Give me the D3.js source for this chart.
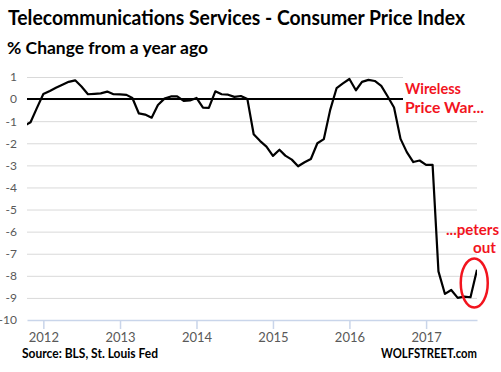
<!DOCTYPE html>
<html>
<head>
<meta charset="utf-8">
<script src="https://cdn.jsdelivr.net/npm/d3@7"></script>
<style>
  html, body { margin: 0; padding: 0; background: #fff; }
  svg { display: block; }
</style>
</head>
<body>
<svg id="chart" width="501" height="372"></svg>
<script>
// ---- data ----
const months = d3.timeMonths(new Date(2011, 9, 1), new Date(2017, 9, 1)); // Oct 2011 .. Sep 2017
const values = [
  -1.22, -1.05, -0.41,
  0.23, 0.37, 0.51, 0.65, 0.78, 0.85, 0.57, 0.22, 0.24, 0.26, 0.34, 0.22,
  0.21, 0.19, 0.05, -0.65, -0.70, -0.84, -0.27, 0.02, 0.12, 0.12, -0.08, -0.06,
  0.05, -0.39, -0.40, 0.35, 0.22, 0.20, 0.10, 0.14, 0.00, -1.59, -1.90, -2.15,
  -2.57, -2.29, -2.56, -2.74, -3.04, -2.86, -2.71, -2.00, -1.81, -0.50, 0.50, 0.71,
  0.91, 0.40, 0.78, 0.87, 0.82, 0.60, 0.13, -0.38, -1.80, -2.40, -2.85, -2.78,
  -2.98, -2.98, -7.80, -8.82, -8.64, -9.00, -8.94, -8.97, -7.73
];
const yTicks = [1, 0, -1, -2, -3, -4, -5, -6, -7, -8, -9, -10];
const xTickYears = [2012, 2013, 2014, 2015, 2016, 2017];
const title = "Telecommunications Services - Consumer Price Index";
const subtitle = "% Change from a year ago";
const source = "Source: BLS, St. Louis Fed";
const brand = "WOLFSTREET.com";
const note1 = ["Wireless", "Price War..."];
const note2 = ["...peters", "out"];

const data = months.map((m, i) => ({ date: m, value: values[i] }));

(function () {
// ---- layout ----
const svg = d3.select("#chart");
const pL = 27, pR = 477, pT = 77, pB = 320;
const x = d3.scaleTime()
  .domain([new Date(2011, 9, 15), new Date(2017, 8, 1)])
  .range([pL, pR]);
const y = d3.scaleLinear().domain([-10, 1]).range([pB, pT]);

const font = "Lato, 'Open Sans', sans-serif";
const red = "#f2141e";

// clip
svg.append("clipPath").attr("id", "plotclip")
  .append("rect").attr("x", pL).attr("y", 0).attr("width", pR - pL).attr("height", 372);

// gridlines
const grid = svg.append("g").attr("transform", `translate(${pL},0)`)
  .call(d3.axisLeft(y).tickValues(yTicks.filter(v => v > -10)).tickSize(-(pR - pL)).tickFormat(""));
grid.select(".domain").remove();
grid.selectAll("line").attr("stroke", "#d9d9d9").attr("stroke-width", 1);

// y labels (plain hyphen minus, as in the reference)
const yl = svg.append("g").attr("transform", `translate(${pL},0)`)
  .call(d3.axisLeft(y).tickValues(yTicks).tickSize(0).tickPadding(10).tickFormat(d => String(d)));
yl.select(".domain").remove();
yl.selectAll("text").attr("font-family", font).attr("font-size", 12).attr("fill", "#595959");

// x axis
const xa = svg.append("g").attr("transform", `translate(0,${pB})`)
  .call(d3.axisBottom(x)
    .tickValues(xTickYears.map(yr => new Date(yr, 0, 1)))
    .tickSize(9).tickSizeOuter(0).tickPadding(4)
    .tickFormat(d3.timeFormat("%Y")));
xa.select(".domain").attr("stroke", "#c9d5ea").attr("stroke-width", 1.5);
xa.selectAll("line").attr("stroke", "#c9d5ea").attr("stroke-width", 1.5);
xa.selectAll("text").attr("font-family", font).attr("font-size", 13).attr("fill", "#595959");

// zero line
svg.append("line")
  .attr("x1", pL).attr("x2", pR)
  .attr("y1", y(0)).attr("y2", y(0))
  .attr("stroke", "#000").attr("stroke-width", 2);

// series line
const line = d3.line().x(d => x(d.date)).y(d => y(d.value));
svg.append("path").datum(data)
  .attr("clip-path", "url(#plotclip)")
  .attr("d", line)
  .attr("fill", "none").attr("stroke", "#000").attr("stroke-width", 2.2)
  .attr("stroke-linejoin", "round");

// white label box covering gridlines
svg.append("rect").attr("x", 403).attr("y", 68).attr("width", 98).attr("height", 49).attr("fill", "#fff");

// annotation texts
const t1 = svg.append("g").attr("font-family", font).attr("font-weight", "bold").attr("font-size", 15).attr("fill", red);
t1.append("text").attr("x", 405).attr("y", 94).attr("textLength", 56).attr("lengthAdjust", "spacingAndGlyphs").text(note1[0]);
t1.append("text").attr("x", 405).attr("y", 113).attr("textLength", 79).attr("lengthAdjust", "spacingAndGlyphs").text(note1[1]);
t1.append("text").attr("x", 446).attr("y", 235).attr("textLength", 53).attr("lengthAdjust", "spacingAndGlyphs").text(note2[0]);
t1.append("text").attr("x", 473).attr("y", 253).attr("textLength", 23).attr("lengthAdjust", "spacingAndGlyphs").text(note2[1]);

// ellipse around last point
const lastTwo = data.slice(-2);
const ex = (x(lastTwo[0].date) + x(lastTwo[1].date)) / 2 + 0.5;
svg.append("ellipse")
  .attr("cx", ex).attr("cy", y((lastTwo[0].value + lastTwo[1].value) / 2) - 0.5)
  .attr("rx", 13.5).attr("ry", 24.5)
  .attr("fill", "none").attr("stroke", red).attr("stroke-width", 2.5);

// titles
svg.append("text").attr("x", 8).attr("y", 25)
  .attr("font-family", font).attr("font-weight", "bold").attr("font-size", 20)
  .attr("textLength", 457).attr("lengthAdjust", "spacingAndGlyphs").attr("fill", "#000").text(title);
svg.append("text").attr("x", 7).attr("y", 54)
  .attr("font-family", font).attr("font-weight", "bold").attr("font-size", 17.5)
  .attr("textLength", 201).attr("lengthAdjust", "spacingAndGlyphs").attr("fill", "#000").text(subtitle);

// footer
svg.append("text").attr("x", 22).attr("y", 358)
  .attr("font-family", font).attr("font-weight", "bold").attr("font-size", 12.5)
  .attr("textLength", 136).attr("lengthAdjust", "spacingAndGlyphs").attr("fill", "#000").text(source);
svg.append("text").attr("x", 381).attr("y", 358)
  .attr("font-family", font).attr("font-weight", "bold").attr("font-size", 12.5)
  .attr("textLength", 96).attr("lengthAdjust", "spacingAndGlyphs").attr("fill", "#000").text(brand);
})();
</script>
</body>
</html>
